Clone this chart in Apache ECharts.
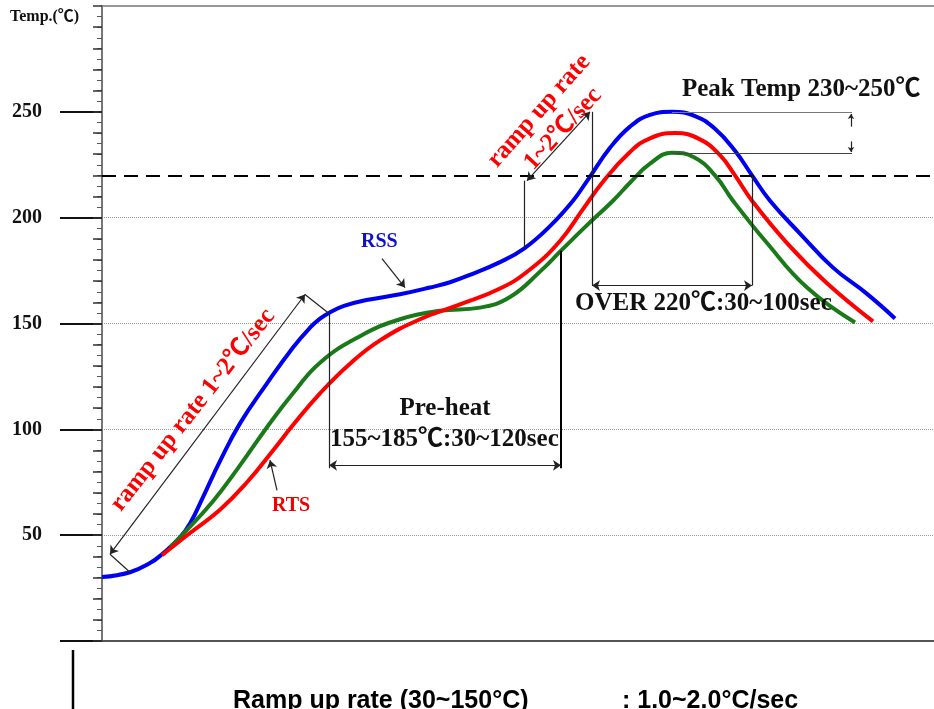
<!DOCTYPE html>
<html>
<head>
<meta charset="utf-8">
<script src="https://cdn.jsdelivr.net/npm/echarts@6/dist/echarts.min.js"></script>
<style>
html,body{margin:0;padding:0;background:#fff;}
#chart{width:934px;height:709px;}
</style>
</head>
<body>
<div id="chart"></div>
<script>
// ---- data (time units, temperature °C) ----
const rssTime = [0,14,24,30,39,44,50.5,59,69,82.5,95.5,104,109,113.5,121,133,149,164,174,184,199,211,224,235.5,243,254,264,274,285,296.5,306.5,316.5,325,334,349,365.5,382.5,396.5];
const rssTemp = [30.2,32.5,36.8,41,49,55.5,68,85,102.8,121.7,138.7,148,152.3,155,158.3,161.2,163.8,167,169.5,173,179,185.4,196,208,218,233,243,248.6,250,248,242,231.6,220,208,192.5,176.4,164,152.4];

const rtsTime = [30,44,59,72.5,85.5,95.5,109,124,139,159,179,199,214,229,240.5,250.5,264,274,286.5,299,309,316.5,325,342.5,362.5,385.5];
const rtsTemp = [40.5,51,62,75,90,102,117,131,142,152,159,166.5,175.5,189,204,217,231,237.5,240,237,229.5,220,208,188,169,151];

const grnTime = [34,39,55.5,69,82.5,95.5,109,129,149,169,189,204,219,229.5,242,255.5,264,274,285,296,306.5,315.5,332.5,352.5,376.5];
const grnTemp = [44.3,49,66,83,101,117,131.5,144,152,156,157.5,162.5,174.5,184.4,196,208,216.5,225.5,230.7,228.5,220,208,188,167,150.5];

const yTickLabels = [50,100,150,200,250];
const yMajorTicks = [0,50,100,150,200,250];
const limitTemp = 220;

function pairs(xs, ys){ return xs.map((x,i)=>[x, ys[i]]); }

const SERIF = '"Liberation Serif","Times New Roman","Noto Sans CJK SC",serif';
const SANS = '"Liberation Sans",Arial,sans-serif';

const chart = echarts.init(document.getElementById('chart'), null, {renderer:'canvas'});

function ln(a, b, opt){
  opt = opt || {};
  return [
    {coord:a, symbol: opt.s1 || 'none', symbolSize: opt.size || 8},
    {coord:b, symbol: opt.s2 || 'none', symbolSize: opt.size || 8,
     lineStyle: {color: opt.color || '#222', width: opt.width || 1.2, type: opt.type || 'solid'}}
  ];
}

const annotations = [
  // 220 dashed line
  ln([0,limitTemp],[416,limitTemp],{color:'#000', width:2, type:[14,8]}),
  // ramp 1
  ln([4,41],[101.5,163.7],{s1:'arrow', s2:'arrow'}),
  ln([101.5,163.7],[113.5,154.7]),
  ln([4,41],[14,32.5]),
  // ramp 2
  ln([212.5,217.5],[244,250],{s1:'arrow', s2:'arrow'}),
  ln([211,217.5],[211,185.4]),
  // over 220 bracket
  ln([245,250],[245,167.9]),
  ln([325,220],[325,167.9]),
  ln([245,167.9],[325,167.9],{s1:'arrow', s2:'arrow'}),
  // pre-heat bracket
  ln([113.5,154.7],[113.5,81.6]),
  ln([229.5,184.4],[229.5,81.6],{color:'#000', width:2}),
  ln([113.5,83],[229.5,83],{s1:'arrow', s2:'arrow'}),
  // peak lines
  ln([285,250],[375,250],{color:'#777'}),
  ln([285,230.5],[375,230.5],{color:'#444'}),
  ln([374.5,243],[374.5,249],{s2:'arrow', size:5}),
  ln([374.5,236],[374.5,231],{s2:'arrow', size:5}),
  // RSS / RTS pointers
  ln([140,180.7],[151.5,167],{s2:'arrow', size:8}),
  ln([87.5,71.2],[84,85.4],{s2:'arrow', size:8})
];

const deg = Math.PI/180;

function txt(x, y, text, size, color, opt){
  opt = opt || {};
  return {
    type:'text', x:x, y:y, rotation: opt.rot || 0, z:100, silent:true,
    style:{
      text:text, fill:color, fontSize:size, fontWeight:'bold',
      fontFamily: opt.family || SERIF,
      align: opt.align || 'left', textAlign: opt.align || 'left',
      verticalAlign: opt.va || 'middle', textVerticalAlign: opt.va || 'middle'
    }
  };
}

const option = {
  animation:false,
  backgroundColor:'#fff',
  grid:{left:102, right:0, top:6, bottom:68, containLabel:false},
  xAxis:[
    {type:'value', min:0, max:416, position:'bottom',
     axisLine:{show:true, onZero:false, lineStyle:{color:'#555', width:2}},
     axisTick:{show:false}, axisLabel:{show:false}, splitLine:{show:false}},
    {type:'value', min:0, max:416, position:'top',
     axisLine:{show:true, onZero:false, lineStyle:{color:'#777', width:1.5}},
     axisTick:{show:false}, axisLabel:{show:false}, splitLine:{show:false}}
  ],
  yAxis:[
    {type:'value', min:0, max:300, interval:50, position:'left',
     axisLine:{show:true, onZero:false, lineStyle:{color:'#777', width:2}},
     axisTick:{show:true, customValues:yMajorTicks, length:42, lineStyle:{color:'#111', width:2}},
     minorTick:{show:true, splitNumber:10, length:5, lineStyle:{color:'#555', width:1}},
     axisLabel:{show:true, customValues:yTickLabels, margin:60, color:'#111',
       fontFamily:SERIF, fontWeight:'bold', fontSize:20},
     splitLine:{show:true, showMinLine:false, showMaxLine:false,
       lineStyle:{type:'dotted', color:'#999', width:1}}},
    {type:'value', min:0, max:300, interval:10, position:'left', offset:0,
     axisLine:{show:false}, axisLabel:{show:false}, splitLine:{show:false},
     axisTick:{show:true, length:9, lineStyle:{color:'#333', width:1.5}}}
  ],
  series:[
    {name:'RSS', type:'line', data:pairs(rssTime, rssTemp), showSymbol:false, smooth:0.45,
     lineStyle:{color:'#0000f0', width:4}, itemStyle:{color:'#0000f0'}, silent:true},
    {name:'Profile', type:'line', data:pairs(grnTime, grnTemp), showSymbol:false, smooth:0.45,
     lineStyle:{color:'#1a7a1a', width:4}, itemStyle:{color:'#1a7a1a'}, silent:true},
    {name:'RTS', type:'line', data:pairs(rtsTime, rtsTemp), showSymbol:false, smooth:0.45,
     lineStyle:{color:'#ff0000', width:4}, itemStyle:{color:'#ff0000'}, silent:true},
    {name:'notes', type:'line', data:[], silent:true,
     markLine:{silent:true, animation:false, symbol:['none','none'], label:{show:false},
       lineStyle:{color:'#222', width:1.2, type:'solid'}, data:annotations}}
  ],
  graphic:[
    txt(10, 17, 'Temp.(℃)', 16, '#111'),
    txt(361, 242, 'RSS', 20, '#1010cc'),
    txt(291, 506, 'RTS', 20, '#ee0000', {align:'center'}),
    txt(193, 410, 'ramp up rate 1~2℃/sec', 25, '#ff0000', {align:'center', rot:51.8*deg}),
    txt(539, 111, 'ramp up rate', 25, '#ff0000', {align:'center', rot:48.5*deg}),
    txt(563, 129, '1~2℃/sec', 25, '#ff0000', {align:'center', rot:47.5*deg}),
    txt(682, 90, 'Peak Temp 230~250℃', 25, '#111'),
    txt(575, 304, 'OVER 220℃:30~100sec', 25, '#111'),
    txt(445, 409, 'Pre-heat', 25, '#111', {align:'center'}),
    txt(330, 440, '155~185℃:30~120sec', 25, '#111'),
    txt(233, 689, 'Ramp up rate (30~150°C)', 25, '#000', {family:SANS, va:'top'}),
    txt(622, 689, ': 1.0~2.0°C/sec', 25, '#000', {family:SANS, va:'top'}),
    {type:'line', silent:true, z:100, shape:{x1:73, y1:650, x2:73, y2:709}, style:{stroke:'#000', lineWidth:2.5}}
  ]
};
chart.setOption(option);
</script>
</body>
</html>
